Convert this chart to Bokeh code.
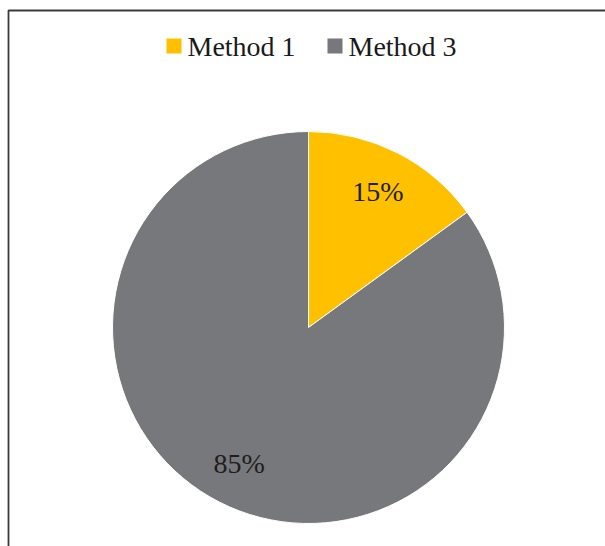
import numpy as np
from bokeh.plotting import figure
from bokeh.models import Range1d, ColumnDataSource
from bokeh.embed import file_html
from bokeh.resources import INLINE
from bokeh.core.properties import value

# ---- data ----
categories = ["Method 1", "Method 3"]
shares = [15, 85]
pct_labels = ["15%", "85%"]
colors = ["#FFC000", "#77787B"]

# ---- layout / style ----
W, H = 605, 546
CX, CY, R = 308, H - 327, 196
FONT = "Liberation Serif"

p = figure(width=W, height=H, x_range=Range1d(0, W), y_range=Range1d(0, H),
           output_backend="svg", toolbar_location=None, min_border=0,
           x_axis_type=None, y_axis_type=None)
p.grid.visible = False
p.outline_line_color = None
p.background_fill_color = "white"
p.border_fill_color = "white"

# outer frame (chart area border, cut off at right/bottom)
p.quad(left=8, right=W + 30, top=H - 10, bottom=-30,
       fill_color=None, line_color="#3a3a3a", line_width=1.8)

# pie slices, clockwise from 12 o'clock
vals = np.array(shares, dtype=float)
frac = vals / vals.sum()
cum_before = np.concatenate([[0], np.cumsum(frac)[:-1]])
cum_after = np.cumsum(frac)
end_ang = np.pi / 2 - 2 * np.pi * cum_before
start_ang = np.pi / 2 - 2 * np.pi * cum_after
mid_ang = (start_ang + end_ang) / 2

src = ColumnDataSource(dict(cat=categories, start=start_ang, end=end_ang,
                            color=colors, label=pct_labels,
                            lx=CX + 0.78 * R * np.cos(mid_ang),
                            ly=CY + 0.78 * R * np.sin(mid_ang)))
p.wedge(x=CX, y=CY, radius=R, start_angle="start", end_angle="end",
        direction="anticlock", fill_color="color", line_color="white",
        line_width=1, source=src)

# data labels
p.text(x="lx", y="ly", text="label", source=src, text_align="center",
       text_baseline="middle", text_font=value(FONT), text_font_size="28px",
       text_color="#1e1e1e")

# legend (top, horizontal)
leg_x = [173.5, 334.5]
leg_y = H - 45.5
p.scatter(x=leg_x, y=[leg_y] * 2, marker="square", size=15,
          fill_color=colors, line_color=None)
p.text(x=[x + 13.5 for x in leg_x], y=[H - 45.5] * 2, text=categories,
       text_align="left", text_baseline="middle", text_font=value(FONT),
       text_font_size="28px", text_color="#1a1a1a")

open("out.html", "w").write(file_html(p, INLINE))
